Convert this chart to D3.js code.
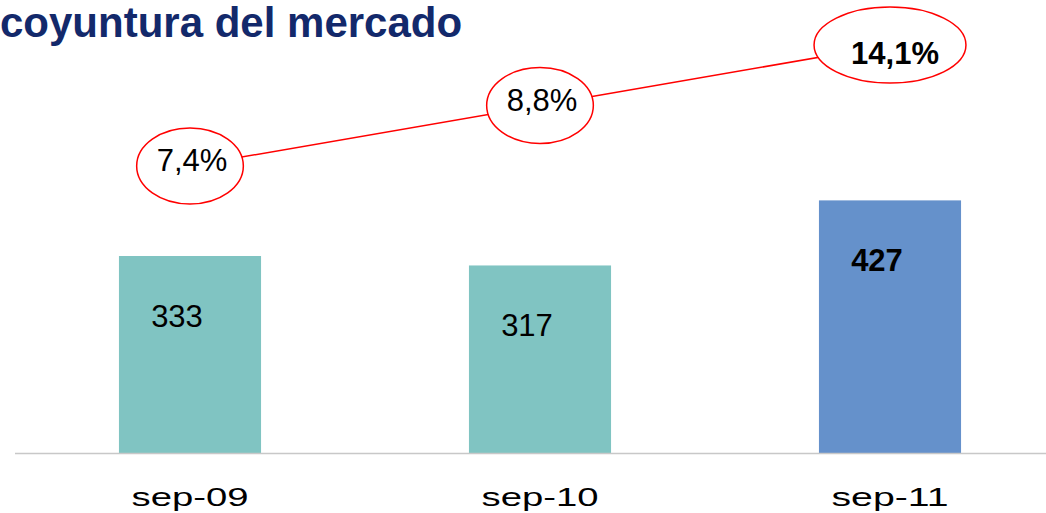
<!DOCTYPE html>
<html>
<head>
<meta charset="utf-8">
<script src="https://cdn.jsdelivr.net/npm/d3@7"></script>
<style>
  html, body { margin: 0; padding: 0; background: #fff; }
  svg { display: block; font-family: "Liberation Sans", Arial, sans-serif; }
</style>
</head>
<body>
<svg id="chart" width="1046" height="513"></svg>
<script>
// ---- data ----
const titleText = "coyuntura del mercado";
const categories = ["sep-09", "sep-10", "sep-11"];
const values = [333, 317, 427];
const growth = [7.4, 8.8, 14.1];
const highlightCategory = "sep-11";

// ---- layout ----
const W = 1046, H = 513;
const baseY = 453;
const svg = d3.select("#chart");

const x = d3.scaleBand()
  .domain(categories)
  .range([15, 1065])
  .paddingInner(0.594)
  .paddingOuter(0.297);

const y = d3.scaleLinear().domain([0, 500]).range([baseY, baseY - 295.8]);

// growth annotations are stepped evenly upward across the categories
const yLine = d3.scalePoint().domain(categories).range([166, 45]);

const fmtPct = v => d3.format(".1f")(v).replace(".", ",") + "%";

// title
svg.append("text")
  .attr("x", 0).attr("y", 37)
  .attr("font-size", 42).attr("font-weight", "bold")
  .attr("fill", "#13296B")
  .text(titleText);

// bars
svg.selectAll("rect.bar")
  .data(categories)
  .join("rect")
  .attr("class", "bar")
  .attr("x", d => x(d))
  .attr("width", x.bandwidth())
  .attr("y", (d, i) => y(values[i]))
  .attr("height", (d, i) => y(0) - y(values[i]))
  .attr("fill", d => d === highlightCategory ? "#6591CB" : "#80C4C2");

// baseline axis
const axis = svg.append("g").attr("transform", `translate(0,${baseY})`)
  .call(d3.axisBottom(x).tickSize(0).tickPadding(0));
axis.select(".domain").attr("stroke", "#C8C8C8").attr("stroke-width", 1.5)
  .attr("d", `M15,0.5H${W}`);
axis.selectAll(".tick text").remove();

// category labels (wide lettering)
svg.selectAll("text.cat")
  .data(categories)
  .join("text")
  .attr("class", "cat")
  .attr("x", d => x(d) + x.bandwidth() / 2)
  .attr("y", 506)
  .attr("text-anchor", "middle")
  .attr("font-size", 25)
  .attr("fill", "#000")
  .attr("textLength", 117)
  .attr("lengthAdjust", "spacingAndGlyphs")
  .text(d => d);

// bar value labels
svg.selectAll("text.val")
  .data(categories)
  .join("text")
  .attr("class", "val")
  .attr("x", d => x(d) + x.bandwidth() / 2 - 13)
  .attr("y", (d, i) => y(values[i]) + 71)
  .attr("text-anchor", "middle")
  .attr("font-size", 31)
  .attr("font-weight", d => d === highlightCategory ? "bold" : "normal")
  .attr("fill", "#000")
  .text((d, i) => values[i]);

// growth line
const line = d3.line()
  .x(d => x(d) + x.bandwidth() / 2)
  .y(d => yLine(d));
svg.append("path")
  .datum(categories)
  .attr("d", line)
  .attr("fill", "none")
  .attr("stroke", "#FF0000")
  .attr("stroke-width", 1.5);

// ellipses + labels
const g = svg.selectAll("g.ann")
  .data(categories)
  .join("g")
  .attr("class", "ann")
  .attr("transform", d => `translate(${x(d) + x.bandwidth() / 2},${yLine(d)})`);

const ell = g.append("ellipse")
  .attr("cx", 0).attr("cy", 0)
  .attr("fill", "#fff")
  .attr("stroke", "#FF0000")
  .attr("stroke-width", 1.5);

const lbl = g.append("text")
  .attr("x", d => d === highlightCategory ? 5 : 2)
  .attr("y", d => d === highlightCategory ? 19 : 5)
  .attr("text-anchor", "middle")
  .attr("font-size", 31)
  .attr("font-weight", d => d === highlightCategory ? "bold" : "normal")
  .attr("fill", "#000")
  .text((d, i) => fmtPct(growth[i]));

lbl.each(function(d) {
  const w = this.getComputedTextLength();
  d3.select(this.parentNode).select("ellipse")
    .attr("rx", w / 2 + (d === highlightCategory ? 32 : 18))
    .attr("ry", 38);
});
</script>
</body>
</html>
